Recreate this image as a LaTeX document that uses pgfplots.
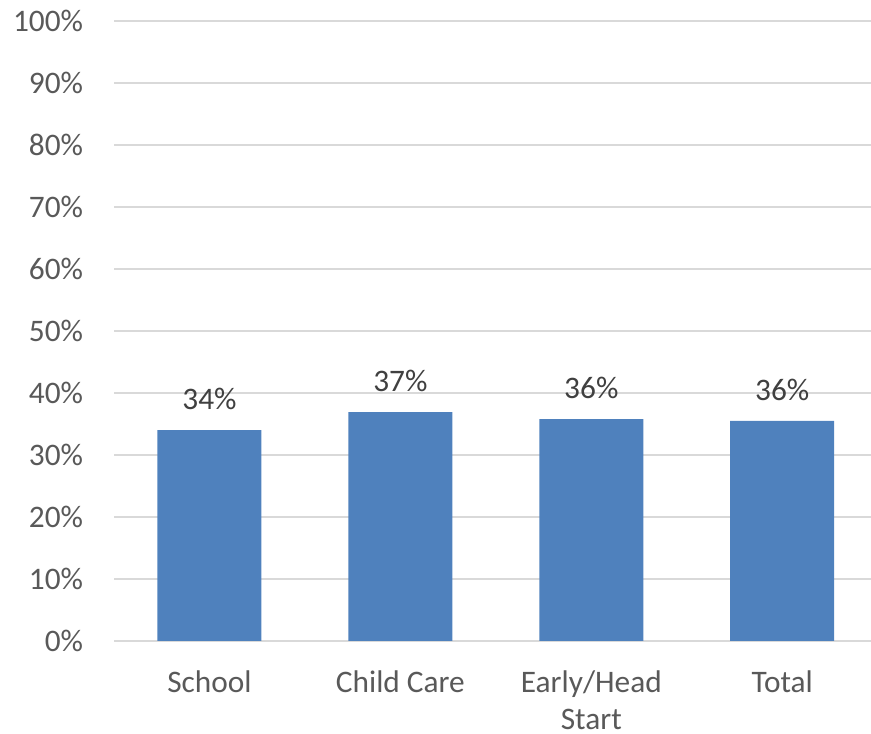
\documentclass[border=0pt]{standalone}
\usepackage{pgfplots}
\pgfplotsset{compat=1.18}
\usepackage{fontspec}
\setmainfont{Carlito}
\definecolor{barblue}{HTML}{4F81BD}
\definecolor{gridgray}{HTML}{D9D9D9}
\definecolor{ticktext}{HTML}{595959}
\definecolor{labeltext}{HTML}{404040}
\begin{document}
\begin{tikzpicture}[x=0.75pt,y=0.75pt]
\path[use as bounding box] (0,0) rectangle (871,734);
\begin{axis}[
  at={(114*0.75pt,93*0.75pt)}, anchor=south west,
  scale only axis,
  width=763.7*0.75pt, height=620*0.75pt,
  xmin=-0.5, xmax=3.5,
  ymin=0, ymax=100,
  ytick={0,10,...,100},
  yticklabel={\pgfmathprintnumber{\tick}\%},
  xtick={0,1,2,3},
  xticklabels={School,Child Care,Early/Head\\Start,Total},
  major tick length=0pt,
  axis line style={draw=none},
  ymajorgrids, grid style={gridgray, line width=1.5pt},
  font=\fontsize{23.5pt}{27.5pt}\selectfont,
  tick label style={text=ticktext},
  yticklabel style={anchor=east, inner sep=0pt, xshift=-23pt},
  xticklabel style={anchor=north, inner sep=0pt, yshift=-22pt, align=center},
  /pgf/number format/assume math mode=true,
  clip=false,
]
\addplot[ybar, bar width=104*0.75pt, fill=barblue, draw=none,
  nodes near coords={\pgfmathprintnumber[fixed,precision=0]{\pgfplotspointmeta}\%},
  nodes near coords style={text=labeltext, anchor=south, inner sep=0pt, yshift=15pt,
    font=\fontsize{23.5pt}{28.5pt}\selectfont}]
  coordinates {(0,34.0) (1,36.9) (2,35.8) (3,35.5)};
\end{axis}
\end{tikzpicture}
\end{document}
